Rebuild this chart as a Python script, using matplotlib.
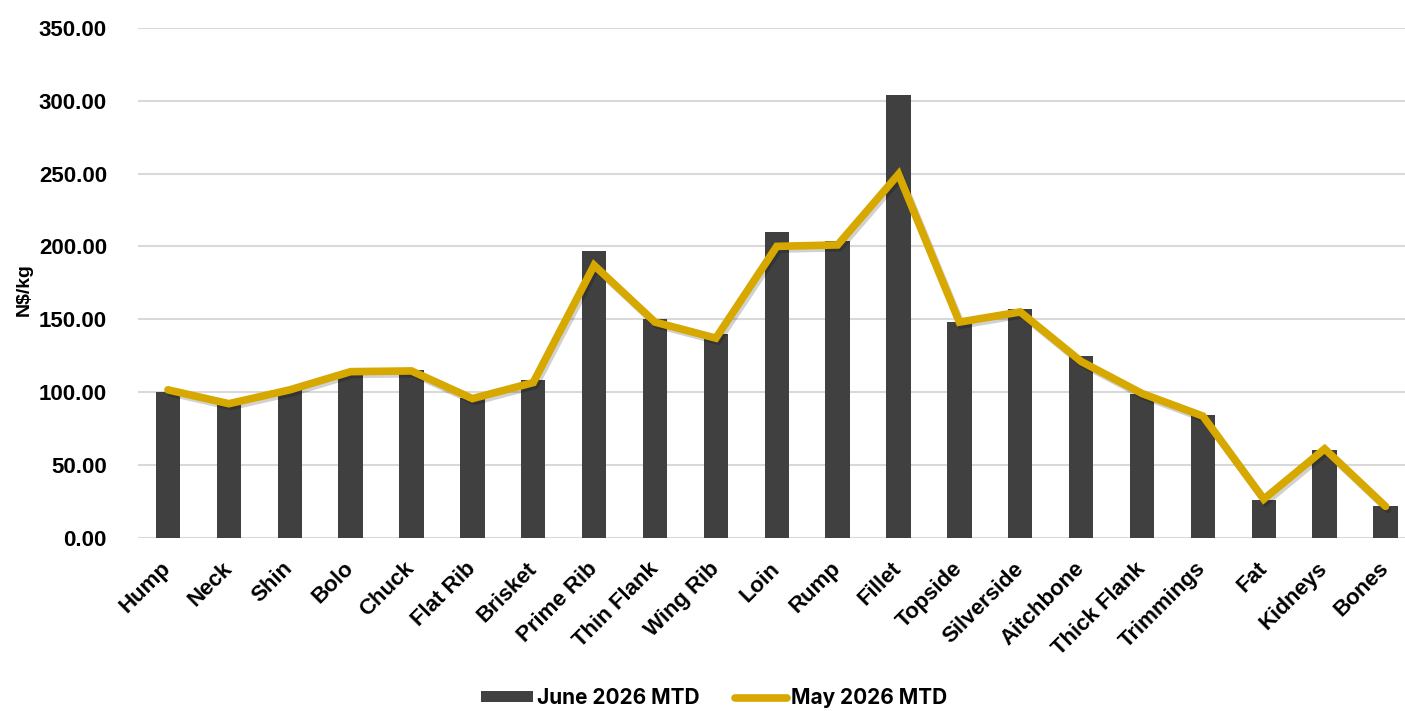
import numpy as np
import matplotlib
matplotlib.use("Agg")
import matplotlib.pyplot as plt
import matplotlib.patheffects as pe
from matplotlib.lines import Line2D
from matplotlib.patches import Patch

cuts = ["Hump", "Neck", "Shin", "Bolo", "Chuck", "Flat Rib", "Brisket", "Prime Rib",
        "Thin Flank", "Wing Rib", "Loin", "Rump", "Fillet", "Topside", "Silverside",
        "Aitchbone", "Thick Flank", "Trimmings", "Fat", "Kidneys", "Bones"]
june_2026 = [100, 92, 102, 112, 115, 96, 108, 197, 150, 140, 210, 204, 304, 148,
             157, 125, 99, 84, 26, 60, 22]
may_2026 = [101.5, 92, 101.5, 114, 114.5, 95.5, 106.5, 187, 148, 137, 200, 201,
            249.5, 148, 155, 121, 99, 83.5, 26.5, 61, 21.5]
y_ticks = [0, 50, 100, 150, 200, 250, 300, 350]

bar_color = "#404040"
line_color = "#D6A800"

plt.rcParams["font.family"] = ["Liberation Sans", "DejaVu Sans"]

fig = plt.figure(figsize=(14.05, 7.11), dpi=100)
ax = fig.add_axes([0.0979, 0.2437, 0.9099, 0.7171])

x = np.arange(len(cuts))
ax.bar(x, june_2026, width=0.4, color=bar_color, zorder=2)
ax.plot(x, may_2026, color=line_color, linewidth=5.5, solid_joinstyle="miter",
        solid_capstyle="round", zorder=3,
        path_effects=[pe.SimpleLineShadow(offset=(1.5, -2), alpha=0.18, shadow_color="black"),
                      pe.Normal()])

ax.set_xlim(-0.5, len(cuts) - 0.5)
ax.set_ylim(0, 350)
ax.set_yticks(y_ticks)
ax.set_yticklabels([f"{v:.2f}" for v in y_ticks], fontsize=16, fontweight="bold")
ax.set_xticks(x)
ax.set_xticklabels(cuts, fontsize=16, fontweight="bold", rotation=45,
                   ha="right", va="center", rotation_mode="anchor")
ax.tick_params(axis="y", length=0, pad=22)
ax.tick_params(axis="x", length=0, pad=20)
ax.yaxis.grid(True, color="#D9D9D9", linewidth=1.5, zorder=0)
ax.set_axisbelow(True)
for s in ax.spines.values():
    s.set_visible(False)

fig.text(0.017, (711 - 290) / 711, "N$/kg", rotation=90, fontsize=14,
         fontweight="bold", ha="center", va="center")

handles = [Patch(facecolor=bar_color, edgecolor="none"),
           Line2D([0], [0], color=line_color, linewidth=5.5, solid_capstyle="round")]
fig.legend(handles, ["June 2026 MTD", "May 2026 MTD"], loc="center",
           bbox_to_anchor=(714 / 1405, (711 - 698) / 711), ncol=2, frameon=False,
           prop={"family": "Inter", "weight": "bold", "size": 15},
           handlelength=2.5, handleheight=0.4, handletextpad=0.2, columnspacing=1.7)

fig.savefig("out.png", dpi=100)
